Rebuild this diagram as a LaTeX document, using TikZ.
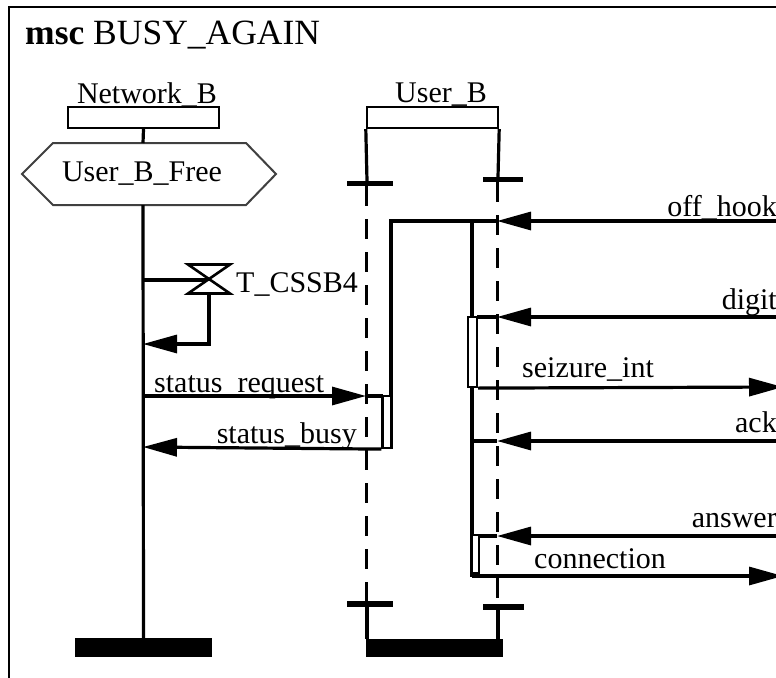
\documentclass[tikz,border=0pt]{standalone}
\usepackage{fontspec}
\setmainfont{Liberation Serif}
\usetikzlibrary{arrows.meta}
\begin{document}
\begin{tikzpicture}[x=1pt,y=-1pt,
  life/.style={line width=3.2pt},
  msg/.style={line width=3.2pt,-{Triangle[length=34pt,width=18pt]}},
  dashline/.style={line width=3pt,dash pattern=on 20pt off 13pt},
  headbox/.style={draw,line width=2.4pt,fill=white,inner sep=0},
  endbar/.style={fill=black,draw=none,inner sep=0},
  actbox/.style={draw,line width=2.2pt,fill=white,inner sep=0},
  lbl/.style={font=\fontsize{30}{30}\selectfont,inner sep=0},
  condline/.style={line width=2pt,draw=black!75},
]
\clip (0,0) rectangle (776,677);
\fill[white] (0,0) rectangle (776,677);
\draw[line width=2.4pt] (9,700) -- (9,7) -- (800,7);

% title
\node[anchor=base west,font=\fontsize{35.5}{35.5}\selectfont,inner sep=0] (title) at (25,45) {\textbf{msc} BUSY\_AGAIN};

% ---------- Network_B ----------
\node[headbox,minimum width=151pt,minimum height=21pt] (nbhead) at (143.5,117.5) {};
\node[lbl,anchor=base] (nbname) at (147,103) {Network\_B};
\node[lbl,anchor=base] (cond) at (142,181) {User\_B\_Free};
\draw[condline] (22,174) -- (53,143) -- (246,143) -- (276,174) -- (246,205) -- (53,205) -- cycle;
\coordinate (condtop) at (143,143);
\coordinate (condbot) at (143,205);
\node[endbar,minimum width=137pt,minimum height=19pt] (nbend) at (143.5,647.5) {};
\draw[life] (nbhead.south) -- (condtop);
\draw[life] (condbot) -- (nbend.north);

% timer
\coordinate (tset) at (143,280);
\coordinate (tcen) at (209,280);
\coordinate (tbot) at (209,293.5);
\coordinate (tout) at (143,344);
\draw[life] (tset) -- (tcen);
\draw[line width=2.6pt,fill=white] (188,264.5) -- (230,264.5) -- (188,293.5) -- (230,293.5) -- cycle;
\node[lbl,anchor=base west] (tname) at (236,292) {T\_CSSB4};
\draw[msg] (tbot) |- (tout);

% ---------- User_B ----------
\node[headbox,minimum width=131pt,minimum height=21pt] (ubhead) at (432.5,117.5) {};
\node[lbl,anchor=base] (ubname) at (441,102) {User\_B};
\node[endbar,minimum width=46pt,minimum height=5.5pt] (ubLtop) at (370,183.5) {};
\node[endbar,minimum width=40pt,minimum height=5.5pt] (ubRtop) at (503,179.5) {};
\node[endbar,minimum width=46pt,minimum height=6pt] (ubLbot) at (370,604) {};
\node[endbar,minimum width=41pt,minimum height=6pt] (ubRbot) at (503.5,607) {};
\node[endbar,minimum width=137pt,minimum height=18pt] (ubend) at (434.5,648) {};
\draw[life] (ubhead.south west) -- (367,181);
\draw[life] (ubhead.south east) -- (498,177);
\draw[dashline] (366,186) -- (366,601);
\draw[dashline] (497,182) -- (497,604);
\draw[life] (367,607) -- (367,639);
\draw[life] (498,610) -- (498,639);

% inner structure of User_B
\coordinate (offT) at (497,221);
\coordinate (digT) at (497,317);
\coordinate (ackT) at (497,441);
\coordinate (ansT) at (497,536);
\coordinate (srT) at (366,396);
\draw[life] (offT) -- (391,221) -- (391,396);
\draw[life] (472,221) -- (472,577);
\draw[life] (digT) -- (477,317);
\draw[life] (ackT) -- (472,441);
\draw[life] (ansT) -- (477,536);
\draw[life] (srT) -- (383,396);

\node[actbox,minimum width=9pt,minimum height=52pt] (actA) at (387,422) {};
\node[actbox,minimum width=9pt,minimum height=70pt] (actB) at (472.5,352) {};
\node[actbox,minimum width=7pt,minimum height=38pt] (actC) at (475.5,554) {};

% off-picture ends of the environment messages
\coordinate (envOff) at (800,221);
\coordinate (envDig) at (800,317);
\coordinate (envSei) at (783,387);
\coordinate (envAck) at (800,441);
\coordinate (envAns) at (800,536);
\coordinate (envCon) at (783,576);

% messages
\draw[msg] (envOff) -- (offT);
\node[lbl,anchor=base east] (lOff) at (777,216) {off\_hook};
\draw[msg] (envDig) -- (digT);
\node[lbl,anchor=base east] (lDig) at (777,309) {digit};
\draw[msg] (actB.south east) -- (envSei);
\node[lbl,anchor=base west] (lSei) at (522,377) {seizure\_int};
\draw[msg] (envAck) -- (ackT);
\node[lbl,anchor=base east] (lAck) at (777,432) {ack};
\draw[msg] (envAns) -- (ansT);
\node[lbl,anchor=base east] (lAns) at (777,527) {answer};
\draw[msg] (472,576) -- (envCon);
\node[lbl,anchor=base west] (lCon) at (534,568) {connection};

\coordinate (srS) at (143,396);
\draw[msg] (srS) -- (srT);
\node[lbl,anchor=base west] (lSr) at (154,392) {status\_request};
\coordinate (sbT) at (143,447);
\draw[msg] (actA.south west) -- (sbT);
\node[lbl,anchor=base east] (lSb) at (357,443) {status\_busy};
\end{tikzpicture}
\end{document}
